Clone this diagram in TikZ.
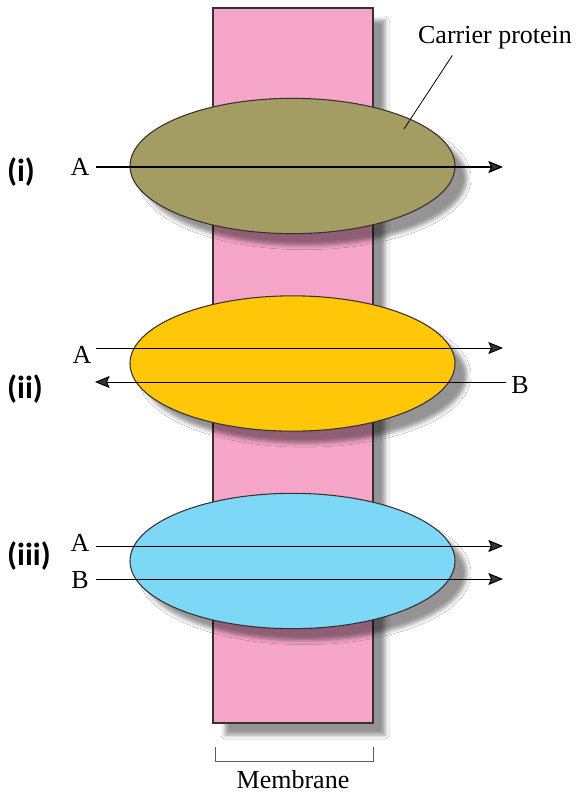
\documentclass[tikz,border=0pt]{standalone}
\usepackage{fontspec}
\setmainfont{Liberation Serif}
\newfontfamily\tagfont{Carlito}
\usepackage{tikz}
\usetikzlibrary{arrows.meta,positioning,shapes.geometric,shadows.blur}
\definecolor{membranePink}{HTML}{F5A5C8}
\definecolor{proteinOlive}{HTML}{A39C63}
\definecolor{proteinGold}{HTML}{FFC708}
\definecolor{proteinBlue}{HTML}{7DD7F6}
\definecolor{rim}{HTML}{3A3030}

\begin{document}
\begin{tikzpicture}[x=0.75pt,y=-0.75pt,>={Stealth[length=11pt,width=9pt,inset=2pt]},
  softshadow/.style={blur shadow={shadow xshift=9pt,shadow yshift=-9pt,shadow blur radius=3pt,shadow opacity=42}},
  protein/.style={ellipse,draw=rim,line width=0.8pt,minimum width=243.75pt,minimum height=101.5pt,inner sep=0pt,outer sep=0pt,softshadow},
  flow/.style={->,line width=0.75pt},
  letter/.style={font=\fontsize{19.5}{22}\selectfont},
  tag/.style={font=\tagfont\bfseries\fontsize{24}{28}\selectfont}]
\useasboundingbox (0,0) rectangle (580,797);
\fill[white] (0,0) rectangle (580,797);
\draw[rim,line width=0.8pt,fill=membranePink,softshadow] (213,8) rectangle (373,723);
\node[protein,fill=proteinOlive] (prot1) at (292.5,166) {};
\node[protein,fill=proteinGold] (prot2) at (292.5,363.5) {};
\node[protein,fill=proteinBlue] (prot3) at (292.5,561) {};
% (i)
\node[tag] (tag1) at (21,172) {(i)};
\node[letter] (a1) at (80,167) {A};
\coordinate (a1s) at (96,167); \coordinate (a1e) at (503,167);
\draw[flow,line width=0.9pt] (a1s) -- (a1e);
\node[letter] (cp) at (495,38) {Carrier protein};
\coordinate (cptip) at (404,129);
\draw[line width=0.6pt] (cptip) -- ([xshift=-32pt,yshift=-1pt]cp.south);
% (ii)
\node[tag] (tag2) at (25,389) {(ii)};
\node[letter] (a2) at (82,355) {A};
\node[letter] (b2) at (520,385) {B};
\coordinate (a2s) at (96,348); \coordinate (a2e) at (503,348);
\coordinate (b2s) at (506,382); \coordinate (b2e) at (95,382);
\draw[flow] (a2s) -- (a2e);
\draw[flow] (b2s) -- (b2e);
% (iii)
\node[tag] (tag3) at (29,556) {(iii)};
\node[letter] (a3) at (80,543) {A};
\node[letter] (b3) at (80,580) {B};
\coordinate (a3s) at (96,546); \coordinate (a3e) at (503,546);
\coordinate (b3s) at (96,579); \coordinate (b3e) at (503,579);
\draw[flow] (a3s) -- (a3e);
\draw[flow] (b3s) -- (b3e);
% bracket
\coordinate (brl) at (215,747); \coordinate (brr) at (373,747);
\draw[rim!80,line width=0.7pt] (brl) |- (373,761) -- (brr);
\node[letter] (mem) at (293,780) {Membrane};
\end{tikzpicture}
\end{document}
